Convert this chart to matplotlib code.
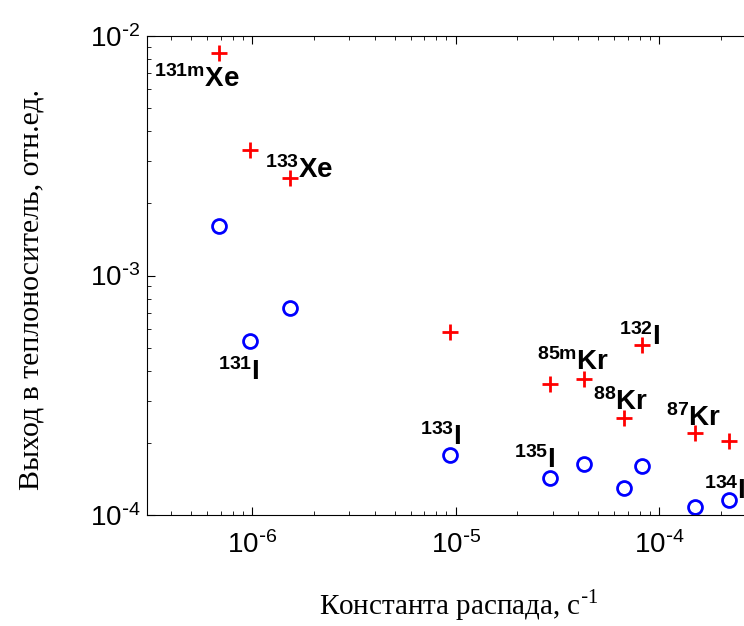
import numpy as np
import matplotlib.pyplot as plt
from matplotlib.ticker import FuncFormatter

# decay constants (1/s) and release fractions
decay = [6.88e-7, 9.78e-7, 1.54e-6, 9.33e-6, 2.90e-5, 4.26e-5, 6.73e-5, 8.24e-5, 1.49e-4, 2.19e-4]
gas_yield = [8.49e-3, 3.34e-3, 2.55e-3, 5.81e-4, 3.52e-4, 3.70e-4, 2.55e-4, 5.13e-4, 2.21e-4, 2.03e-4]
iod_yield = [1.61e-3, 5.32e-4, 7.31e-4, 1.78e-4, 1.43e-4, 1.63e-4, 1.30e-4, 1.60e-4, 1.08e-4, 1.16e-4]

# nuclide labels: (text, series, index of point)
labels = [
    (r'$\mathregular{^{131m}Xe}$', 'gas', 0),
    (r'$\mathregular{^{133}Xe}$', 'gas', 2),
    (r'$\mathregular{^{131}I}$', 'iod', 1),
    (r'$\mathregular{^{133}I}$', 'iod', 3),
    (r'$\mathregular{^{135}I}$', 'iod', 4),
    (r'$\mathregular{^{85m}Kr}$', 'gas', 5),
    (r'$\mathregular{^{132}I}$', 'gas', 7),
    (r'$\mathregular{^{88}Kr}$', 'gas', 6),
    (r'$\mathregular{^{87}Kr}$', 'gas', 8),
    (r'$\mathregular{^{134}I}$', 'iod', 9),
]
# offset (px) of text left/baseline from its point
offsets = [(-65, -34), (-25, 0), (-32, -39), (-30, 10), (-36, 10), (-47, 9), (-23, 0), (-31, 8), (-29, 7), (-25, 1)]

plt.rcParams['font.family'] = 'Liberation Sans'

fig = plt.figure(figsize=(7.44, 6.26), dpi=100)
ax = fig.add_axes([147/744, (626-515)/626, (775-147)/744, (515-36)/626])

ax.loglog(decay, gas_yield, '+', color='red', ms=11, mew=2)
ax.loglog(decay, iod_yield, 'o', color='blue', mfc='none', ms=10, mew=2)

ax.set_xlim(3.04e-7, 3.7e-4)
ax.set_ylim(1e-4, 1e-2)

def fmt(v, pos):
    e = int(round(np.log10(v)))
    return r'$\mathregular{10^{\text{-}%d}}$' % (-e)

ax.set_xticks([1e-6, 1e-5, 1e-4])
ax.set_yticks([1e-4, 1e-3, 1e-2])
ax.xaxis.set_major_formatter(FuncFormatter(fmt))
ax.yaxis.set_major_formatter(FuncFormatter(fmt))
ax.tick_params(which='both', direction='in', top=True, right=True, labelsize=20)
ax.tick_params(which='major', length=6)
ax.tick_params(which='minor', length=3)
ax.tick_params(axis='x', pad=12)
ax.tick_params(axis='y', pad=5)

for (txt, ser, i), off in zip(labels, offsets):
    yv = gas_yield[i] if ser == 'gas' else iod_yield[i]
    ax.annotate(txt, xy=(decay[i], yv), xytext=off,
                textcoords='offset pixels', fontsize=20, fontweight='bold',
                ha='left', va='baseline', annotation_clip=False)

ax.set_xlabel(r'Константа распада, с$^{\mathregular{\text{-}1}}$', family='Liberation Serif', fontsize=21)
ax.set_ylabel('Выход в теплоноситель, отн.ед.', family='Liberation Serif', fontsize=21.5)
# label positions in axes fraction
ax.xaxis.set_label_coords((459-147)/(775-147), -(587-515)/(515-36))
ax.yaxis.set_label_coords(-(147-45)/(775-147), (515-290)/(515-36))

fig.savefig('out.png', dpi=100)
